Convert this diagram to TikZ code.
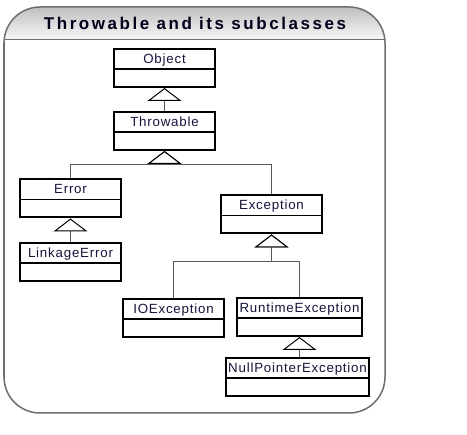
\documentclass[tikz,border=0pt]{standalone}
\usepackage{fontspec}
\setmainfont{Liberation Sans}
\usepackage{tikz}
\usetikzlibrary{positioning,arrows.meta,calc}
\definecolor{classnavy}{HTML}{14143C}
\definecolor{framegrey}{HTML}{6E6E6E}
\definecolor{linkgrey}{HTML}{5A5A5A}
\newfontfamily\boxfont[LetterSpace=6]{Liberation Sans}
\newfontfamily\titlefont[LetterSpace=15]{Liberation Sans}

\begin{document}
\begin{tikzpicture}[x=1pt,y=-1pt,
  classbox/.style={rectangle,draw=black,line width=2pt,fill=white,minimum width=101pt,inner xsep=2pt,inner ysep=0pt,text height=14.5pt,text depth=23.5pt,font=\boxfont\fontsize{13.3}{15}\selectfont,text=classnavy,
    path picture={\draw[line width=1.6pt] ([yshift=-20pt]path picture bounding box.north west) -- ([yshift=-20pt]path picture bounding box.north east);}},
  inherit/.style={-{Triangle[length=13pt,width=34pt,fill=white,color=black,line width=1pt]},line width=1pt,linkgrey},
  titletext/.style={font=\titlefont\bfseries\fontsize{17}{20}\selectfont,text=black!90!blue},
]
\useasboundingbox (0,0) rectangle (467,435);

% Frame with shaded title band
\begin{scope}
  \clip[rounded corners=36pt] (4,7) rectangle (385,413);
  \shade[top color=gray!50,bottom color=gray!5] (4,7) rectangle (385,40);
\end{scope}
\draw[framegrey,line width=1pt] (4,40) -- (385,40);
\draw[framegrey,line width=1.5pt,rounded corners=36pt] (4,7) rectangle (385,413);
\node[titletext] (title) at (195,23) {Throwable and its subclasses};

% Classes
\node[classbox] (obj) at (164.5,68)  {Object};
\node[classbox] (thr) at (164.5,131) {Throwable};
\node[classbox] (err) at (70.5,198.5) {Error};
\node[classbox] (lnk) at (70.5,262)  {LinkageError};
\node[classbox] (exc) at (271.5,214.5) {Exception};
\node[classbox] (ioe) at (173.5,318) {IOException};
\node[classbox,minimum width=125pt] (rte) at (299.5,317) {RuntimeException};
\node[classbox,minimum width=143pt] (npe) at (297.5,377) {NullPointerException};

% Inheritance
\coordinate (thrfork) at (164.5,165);
\coordinate (excfork) at (271.5,262);
\draw[inherit] (thr.north) -- (obj.south);
\draw[inherit] (err.north) |- (thrfork) -- (thr.south);
\draw[inherit] (exc.north) |- (thrfork) -- (thr.south);
\draw[inherit] (lnk.north) -- (err.south);
\draw[inherit] (ioe.north) |- (excfork) -- (exc.south);
\draw[inherit] (rte.north) |- (excfork) -- (exc.south);
\draw[inherit] (rte.south |- npe.north) -- (rte.south);
\end{tikzpicture}
\end{document}
